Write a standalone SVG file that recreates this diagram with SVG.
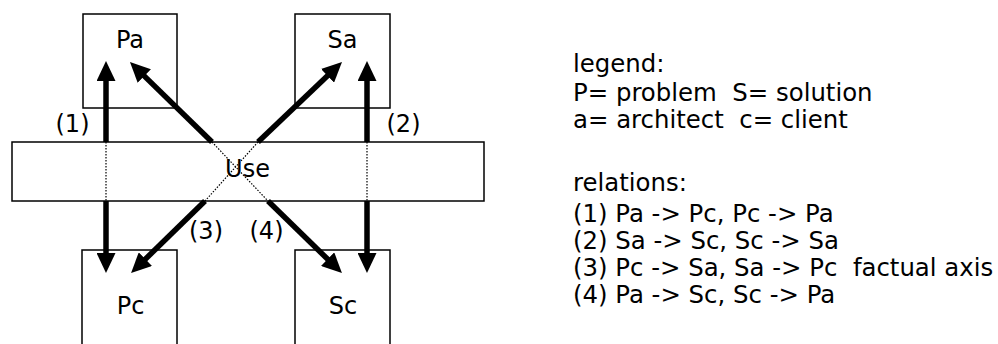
<svg xmlns="http://www.w3.org/2000/svg" width="998" height="344" viewBox="0 0 998 344">
<style>
.box{fill:#fff;stroke:#000;stroke-width:1.5}
.lbl{font-family:"DejaVu Sans",Verdana,sans-serif;font-size:24px;fill:#000;text-anchor:middle}
.leg{font-family:"DejaVu Sans",Verdana,sans-serif;font-size:24.4px;fill:#000}
.arr{stroke:#000;stroke-width:5.5;fill:none;marker-end:url(#ah)}
.dot{stroke:#000;stroke-width:1.2;stroke-dasharray:1.5 1.5;fill:none}
</style>
<defs>
<marker id="ah" viewBox="0 0 20 19" refX="12" refY="9.5" markerWidth="20" markerHeight="19" markerUnits="userSpaceOnUse" orient="auto">
<path d="M0,0 L20,9.5 L0,19 Z" fill="#000"/>
</marker>
</defs>
<rect width="998" height="344" fill="#fff"/>
<g id="Pa"><rect class="box" x="83" y="14" width="94" height="94"/><text class="lbl" x="130" y="48">Pa</text></g>
<g id="Sa"><rect class="box" x="295" y="14" width="95" height="94"/><text class="lbl" x="342.5" y="48">Sa</text></g>
<g id="Pc"><rect class="box" x="82" y="250" width="95" height="110"/><text class="lbl" x="130.5" y="314">Pc</text></g>
<g id="Sc"><rect class="box" x="295" y="250" width="95" height="110"/><text class="lbl" x="343" y="314">Sc</text></g>
<g id="Use"><rect class="box" x="12" y="142" width="472" height="59"/><text class="lbl" x="247.5" y="177">Use</text></g>
<g id="connectors">
<line class="arr" x1="106" y1="142" x2="106" y2="69"/>
<line class="arr" x1="106" y1="201" x2="106" y2="265"/>
<line class="dot" x1="106" y1="142" x2="106" y2="201"/>
<line class="arr" x1="367" y1="142" x2="367" y2="69"/>
<line class="arr" x1="367" y1="201" x2="367" y2="265"/>
<line class="dot" x1="367" y1="142" x2="367" y2="201"/>
<line class="arr" x1="212" y1="142" x2="135.7" y2="67.6"/>
<line class="arr" x1="258" y1="142" x2="336.2" y2="67.5"/>
<line class="arr" x1="205" y1="201" x2="136.8" y2="267.5"/>
<line class="arr" x1="268" y1="201" x2="336.2" y2="267.5"/>
<line class="dot" x1="212" y1="142" x2="268" y2="201"/>
<line class="dot" x1="258" y1="142" x2="205" y2="201"/>
<text class="lbl" x="72.5" y="132">(1)</text>
<text class="lbl" x="403.5" y="132">(2)</text>
<text class="lbl" x="206" y="239">(3)</text>
<text class="lbl" x="266.5" y="239">(4)</text>
</g>
<g id="legend">
<text class="leg" x="573" y="72">legend:</text>
<text class="leg" x="573" y="101" xml:space="preserve">P= problem  S= solution</text>
<text class="leg" x="573" y="128" xml:space="preserve">a= architect  c= client</text>
<text class="leg" x="573" y="191">relations:</text>
<text class="leg" x="573" y="222">(1) Pa -&gt; Pc, Pc -&gt; Pa</text>
<text class="leg" x="573" y="249">(2) Sa -&gt; Sc, Sc -&gt; Sa</text>
<text class="leg" x="573" y="276" xml:space="preserve">(3) Pc -&gt; Sa, Sa -&gt; Pc  factual axis</text>
<text class="leg" x="573" y="303">(4) Pa -&gt; Sc, Sc -&gt; Pa</text>
</g>
</svg>
